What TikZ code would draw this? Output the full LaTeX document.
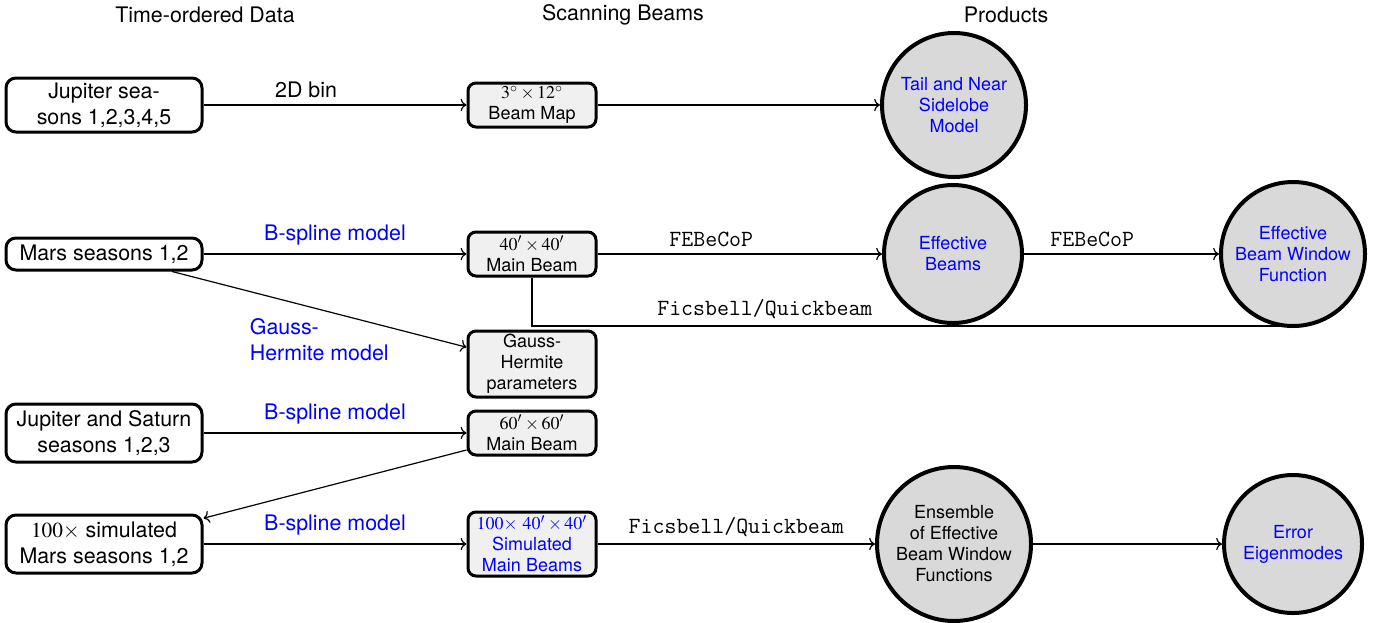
\documentclass[tikz,border=0pt]{standalone}
\usepackage{mathptmx}
\usepackage[no-math]{fontspec}
\setmainfont{TeX Gyre Heros}
\setmonofont{Latin Modern Mono}
\usetikzlibrary{arrows.meta,backgrounds}
\newcommand\bigf{\fontsize{10.7}{13}\selectfont}
\newcommand\smf{\fontsize{9}{10.5}\selectfont}
\newcommand\ttf{\fontsize{11.6}{13}\selectfont\ttfamily}
\tikzset{
  lbox/.style={draw, line width=1.5pt, rounded corners=5pt, fill=white, minimum width=98pt, align=center, inner sep=0pt, font=\bigf},
  mbox/.style={draw, line width=1.5pt, rounded corners=4pt, fill=black!6, minimum width=64pt, align=center, inner sep=0pt, font=\smf},
  prod/.style={draw, line width=2pt, circle, fill=gray!30, align=center, inner sep=0pt, font=\smf},
  head/.style={font=\bigf},
  lab/.style={font=\bigf},
  blab/.style={font=\bigf, text=blue},
  tlab/.style={font=\ttf},
  conn/.style={line width=0.6pt, ->},
}
\begin{document}
\begin{tikzpicture}[x=0.5pt, y=-0.5pt]
\useasboundingbox (0,0) rectangle (1384,622);

\node[head] (h1) at (205,15) {Time-ordered Data};
\node[head] (h2) at (623,15) {Scanning Beams};
\node[head] (h3) at (1006,15) {Products};

\node[lbox, minimum height=27pt] (jup) at (104,105) {Jupiter sea-\\sons 1,2,3,4,5};
\node[lbox, minimum height=16pt] (mars) at (104,254) {Mars seasons 1,2};
\node[lbox, minimum height=29pt] (js) at (104,433) {Jupiter and Saturn\\seasons 1,2,3};
\node[lbox, minimum height=29pt] (sim) at (104,544) {$100{\times}$ simulated\\Mars seasons 1,2};

\node[mbox, minimum height=22pt] (bm) at (532,105) {$3^\circ\times12^\circ$\\Beam Map};
\node[mbox, minimum height=22pt] (mb40) at (532,254) {$40'\times40'$\\Main Beam};
\node[mbox, minimum height=33pt] (gh) at (532,364) {Gauss-\\Hermite\\parameters};
\node[mbox, minimum height=22pt] (mb60) at (532,433) {$60'\times60'$\\Main Beam};
\node[mbox, minimum height=32pt, text=blue] (sb) at (532,544) {$100{\times}$ $40'\times40'$\\Simulated\\Main Beams};

\node[prod, minimum size=72pt, text=blue] (tail) at (954,105) {Tail and Near\\Sidelobe\\Model};
\node[prod, minimum size=69pt, text=blue] (eb) at (953,254) {Effective\\Beams};
\node[prod, minimum size=72pt, text=blue] (ebwf) at (1293,254) {Effective\\Beam Window\\Function};
\node[prod, minimum size=77pt] (ens) at (954,544) {Ensemble\\of Effective\\Beam Window\\Functions};
\node[prod, minimum size=69pt, text=blue] (err) at (1293,544) {Error\\Eigenmodes};

\draw[conn] (jup) -- node[pos=0.39, above, lab] {2D bin} (bm);
\draw[conn] (bm) -- (tail);
\draw[conn] (mars) -- node[above=1pt, blab] {B-spline model} (mb40);
\draw[conn] (mb40) -- node[pos=0.4, above, tlab] {FEBeCoP} (eb);
\draw[conn] (eb) -- node[pos=0.35, above, tlab] {FEBeCoP} (ebwf);
\begin{scope}[on background layer]
\draw[line width=0.6pt] (mb40.south) |- node[pos=0.653, above, tlab] {Ficsbell/Quickbeam} ([yshift=1pt]ebwf.south);
\end{scope}
\draw[conn] (mars) -- node[pos=0.5, below, yshift=-1pt, blab, align=left] {Gauss-\\Hermite model} (gh);
\draw[conn] (js) -- node[above=1pt, blab] {B-spline model} (mb60);
\draw[conn] (mb60) -- (sim);
\draw[conn] (sim) -- node[above=1pt, blab] {B-spline model} (sb);
\draw[conn] (sb) -- node[above, tlab] {Ficsbell/Quickbeam} (ens);
\draw[conn] (ens) -- (err);
\end{tikzpicture}
\end{document}
